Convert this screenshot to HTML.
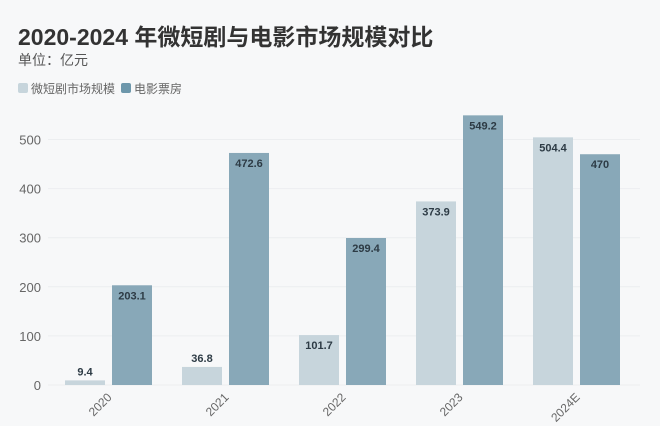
<!DOCTYPE html>
<html><head><meta charset="utf-8"><style>
body{margin:0;width:660px;height:426px;background:#f7f8f9;font-family:"Liberation Sans","Noto Sans CJK SC",sans-serif;overflow:hidden;position:relative}
#title{position:absolute;left:18px;top:18px;font-size:23px;font-weight:bold;color:#333;margin:0}
#unit{position:absolute;left:18px;top:50px;font-size:14px;color:#555}
#legend{position:absolute;left:18px;top:80px;font-size:12px;color:#666;display:flex;align-items:center}
.sw{display:inline-block;width:10px;height:10px;border-radius:2px;margin-right:3px}
svg{position:absolute;left:0;top:0}
</style></head><body>
<h1 id="title">2020-2024 年微短剧与电影市场规模对比</h1>
<div id="unit">单位：亿元</div>
<div id="legend">
<span><span class="sw" style="background:#c7d5dc"></span>微短剧市场规模</span>
<span style="margin-left:6px"><span class="sw" style="background:#6d97ab"></span>电影票房</span>
</div>
<svg id="chart" width="660" height="426"></svg>
<script>
const categories=["2020","2021","2022","2023","2024E"];
const microDrama=[9.4,36.8,101.7,373.9,504.4];
const boxOffice=[203.1,472.6,299.4,549.2,470];
const yTicks=[0,100,200,300,400,500];
const NS="http://www.w3.org/2000/svg";
const svg=document.getElementById("chart");
const y0=385,scale=0.491;
const y=v=>y0-v*scale;
const cx=i=>108.5+i*117;
function mk(t,a,txt){const e=document.createElementNS(NS,t);for(const k in a)e.setAttribute(k,a[k]);if(txt!==undefined)e.textContent=txt;svg.appendChild(e);return e;}
yTicks.forEach(t=>{
 const g=mk("line",{x1:48,x2:640,y1:y(t),y2:y(t),stroke:"#eceef0","stroke-width":1});
 
 
 const l=mk("text",{x:41,y:y(t)+5,"text-anchor":"end","font-size":13,fill:"#666"},t);
 
 
});
categories.forEach((c,i)=>{
 const series=[[microDrama[i],cx(i)-43.5,"#c7d5dc"],[boxOffice[i],cx(i)+3.5,"#88a8b8"]];
 series.forEach(([v,x,col],j)=>{
  const r=mk("rect",{x:x,y:y(v),width:40,height:v*scale,fill:col});
  
  
  const inside=v*scale>30;
  const t=mk("text",{x:x+20,y:inside?y(v)+14:y(v)-5,"text-anchor":"middle","font-size":11,"font-weight":"bold",fill:"#2d3b45"},v);
  
  
 });
 const xl=mk("text",{x:cx(i)+4,y:398,"text-anchor":"end","font-size":12,fill:"#666",transform:`rotate(-45 ${cx(i)+4} 398)`},c);
 
 
});
</script>
</body></html>
